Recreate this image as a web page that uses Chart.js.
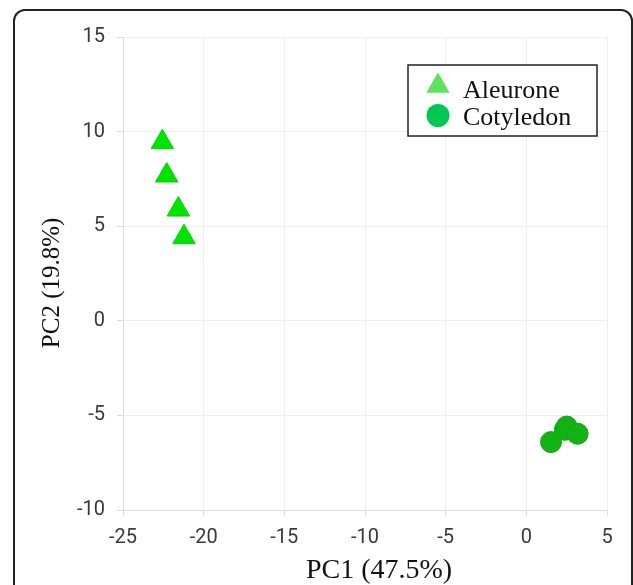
<!DOCTYPE html>
<html>
<head>
<meta charset="utf-8">
<title>PCA</title>
<script src="https://cdn.jsdelivr.net/npm/chart.js@4"></script>
<style>
    html, body { margin: 0; padding: 0; background: #fff; overflow: hidden; }
    .wrap { position: relative; width: 633px; height: 585px; }
    .frame {
        position: absolute; left: 13px; top: 9px;
        width: 616px; height: 620px;
        border: 2px solid #222; border-radius: 12px;
    }
    #pcaChart { position: absolute; left: 0; top: 0; }
</style>
</head>
<body>
<div class="wrap">
    <div class="frame"></div>
    <canvas id="pcaChart" width="633" height="585"></canvas>
</div>
<script>
// PCA scores
const seriesLabels = ['Aleurone', 'Cotyledon'];
const aleuroneX = [-22.56, -22.29, -21.57, -21.22];
const aleuroneY = [9.44, 7.68, 5.88, 4.42];
const cotyledonX = [1.53, 2.39, 2.50, 3.18];
const cotyledonY = [-6.41, -5.76, -5.59, -5.97];

// axis ticks
const xTicks = [-25, -20, -15, -10, -5, 0, 5];
const yTicks = [-10, -5, 0, 5, 10, 15];

function toPoints(xs, ys) {
    return xs.map((x, i) => ({ x: x, y: ys[i] }));
}

// legend drawn in a box at the top right of the plot
const boxLegend = {
    id: 'boxLegend',
    afterDraw(chart) {
        const ctx = chart.ctx;
        const area = chart.chartArea;
        const bx = area.right - 199;
        const by = area.top + 28;
        ctx.save();
        ctx.fillStyle = '#fff';
        ctx.fillRect(bx, by, 189, 71);
        ctx.strokeStyle = '#222';
        ctx.lineWidth = 1.5;
        ctx.strokeRect(bx, by, 189, 71);
        ctx.font = '26px "Liberation Serif", "Times New Roman", serif';
        ctx.textBaseline = 'alphabetic';
        chart.data.datasets.forEach((ds, i) => {
            const cy = by + 21 + i * 29.5;
            ctx.fillStyle = ds.legendColor;
            ctx.strokeStyle = ds.legendColor;
            Chart.helpers.drawPoint(ctx, {
                pointStyle: ds.pointStyle,
                radius: ds.pointStyle === 'triangle' ? 13.5 : 11.5,
                borderWidth: 0
            }, bx + 30, cy);
            ctx.fillStyle = '#111';
            ctx.fillText(ds.label, bx + 55, by + 33 + i * 27);
        });
        ctx.restore();
    }
};

const tickFont = { family: 'Roboto, Arial, sans-serif', size: 20 };
const titleFont = { family: '"Liberation Serif", "Times New Roman", serif' };

new Chart(document.getElementById('pcaChart'), {
    type: 'scatter',
    data: {
        datasets: [{
            label: seriesLabels[0],
            data: toPoints(aleuroneX, aleuroneY),
            pointStyle: 'triangle',
            pointRadius: 13,
            backgroundColor: '#00e400',
            borderColor: '#00d400',
            borderWidth: 1,
            legendColor: '#5de35d'
        }, {
            label: seriesLabels[1],
            data: toPoints(cotyledonX, cotyledonY),
            pointStyle: 'circle',
            pointRadius: 10.5,
            backgroundColor: '#13b313',
            borderColor: '#10a810',
            borderWidth: 1,
            legendColor: '#00c853'
        }]
    },
    options: {
        responsive: false,
        animation: false,
        layout: { padding: { left: 0, top: 37, right: 26, bottom: 0 } },
        plugins: {
            legend: { display: false },
            tooltip: { enabled: false }
        },
        scales: {
            x: {
                min: xTicks[0],
                max: xTicks[xTicks.length - 1],
                afterFit(scale) { scale.height = 75; },
                afterBuildTicks(scale) { scale.ticks = xTicks.map(v => ({ value: v })); },
                ticks: { font: tickFont, color: '#3a3a3a', padding: 10 },
                grid: { color: '#efefef', tickColor: '#dcdcdc', tickLength: 6 },
                border: { color: '#dcdcdc' },
                title: {
                    display: true,
                    // leading spaces push the title a bit right, as in the figure
                    text: '    PC1 (47.5%)',
                    color: '#111',
                    font: Object.assign({ size: 28, lineHeight: 1 }, titleFont),
                    padding: { top: 0, bottom: 0 }
                }
            },
            y: {
                min: yTicks[0],
                max: yTicks[yTicks.length - 1],
                afterFit(scale) { scale.width = 123; },
                afterBuildTicks(scale) { scale.ticks = yTicks.map(v => ({ value: v })); },
                ticks: { font: tickFont, color: '#3a3a3a', padding: 12 },
                grid: { color: '#efefef', tickColor: '#dcdcdc', tickLength: 6 },
                border: { color: '#dcdcdc' },
                title: {
                    display: true,
                    text: 'PC2 (19.8%)   ',
                    color: '#111',
                    font: Object.assign({ size: 25, lineHeight: 1 }, titleFont),
                    padding: { top: 40, bottom: 0 }
                }
            }
        }
    },
    plugins: [boxLegend]
});
</script>
</body>
</html>
